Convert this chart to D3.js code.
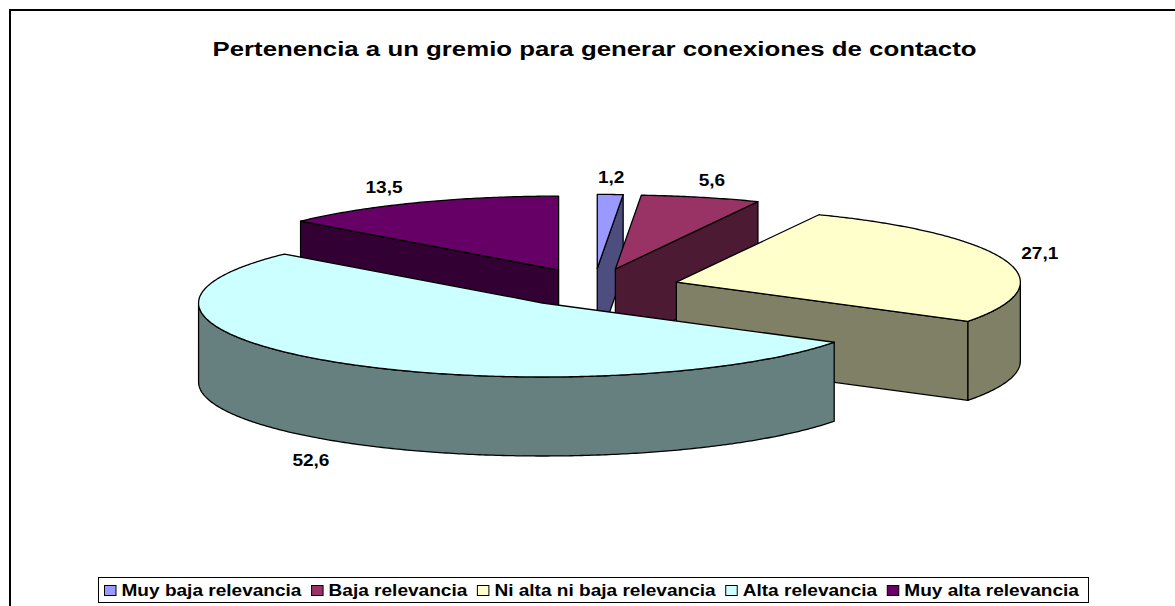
<!DOCTYPE html>
<html><head><meta charset="utf-8">
<script src="https://cdn.jsdelivr.net/npm/d3@7/dist/d3.min.js"></script>
<style>html,body{margin:0;padding:0;background:#fff}svg{display:block}text{font-family:"Liberation Sans",Arial,sans-serif;font-weight:bold;fill:#000}</style>
</head><body><svg id="c" width="1175" height="606"></svg>
<script>
const categories = ["Muy baja relevancia","Baja relevancia","Ni alta ni baja relevancia","Alta relevancia","Muy alta relevancia"];
const values = [1.2,5.6,27.1,52.6,13.5];
const valueLabels = ["1,2","5,6","27,1","52,6","13,5"];
const topColors = ["#9999FF","#993366","#FFFFCC","#CCFFFF","#660066"];
const sideColors = ["#4D4D80","#4D1A33","#808066","#668080","#330033"];
const drawOrder = [4,0,1,2,3];
const title = "Pertenencia a un gremio para generar conexiones de contacto";

// layout
const W=1175,H=606,cx=594,cy=287.6,rx=344,ry=74,depth=79,explodeX=86,explodeY=19.2;
const labelOffset=[[0,-17],[10,-17],[33,-7],[-27,19],[-34,-15]];
const svg=d3.select("#c");
svg.append("path").attr("d",`M${W},10H10V${H}`).attr("fill","none").attr("stroke","#000").attr("stroke-width",2);
const wideText=(sel,x,y,size,str,anchor,sx)=>sel.append("text").attr("transform",`translate(${x},${y}) scale(${sx},1)`)
  .attr("text-anchor",anchor).attr("font-size",size).text(str);
wideText(svg,594.5,55.5,21,title,"middle",1.229);

const arcs=d3.pie().sort(null).value(d=>d)(values);
const xS=d3.scaleLinear().domain([-1,1]).range([-rx,rx]);
const yS=d3.scaleLinear().domain([-1,1]).range([-ry,ry]);
const line=d3.line();
const center=a=>{const m=(a.startAngle+a.endAngle)/2;return [cx+explodeX*Math.sin(m),cy-explodeY*Math.cos(m)];};
const pt=(c,t,dz=0)=>[c[0]+xS(Math.sin(t)),c[1]-yS(Math.cos(t))+dz];
const samples=(a,b)=>{const n=Math.max(2,Math.ceil((b-a)/0.01));return d3.range(n+1).map(i=>a+(b-a)*i/n);};
const sw=1.3;
drawOrder.forEach(i=>{
  const a=arcs[i],c=center(a),s=a.startAngle,e=a.endAngle;
  const g=svg.append("g").attr("stroke","#000").attr("stroke-width",sw).attr("stroke-linejoin","round");
  const wall=p=>g.append("path").attr("d",line(p)+"Z").attr("fill",sideColors[i]);
  if(Math.sin(s)<-1e-6) wall([c,pt(c,s),pt(c,s,depth),[c[0],c[1]+depth]]);
  if(Math.sin(e)>1e-6) wall([c,pt(c,e),pt(c,e,depth),[c[0],c[1]+depth]]);
  const w0=Math.max(s,Math.PI/2),w1=Math.min(e,1.5*Math.PI);
  if(w1>w0){
    const tt=samples(w0,w1);
    wall(tt.map(t=>pt(c,t)).concat(tt.slice().reverse().map(t=>pt(c,t,depth))));
  }
  g.append("path").attr("d",line([c].concat(samples(s,e).map(t=>pt(c,t))))+"Z").attr("fill",topColors[i]);
});
arcs.forEach((a,i)=>{
  const c=center(a),p=pt(c,(a.startAngle+a.endAngle)/2);
  wideText(svg,p[0]+labelOffset[i][0]+1,p[1]+labelOffset[i][1]+(i===3?depth:0)+5.5,16,valueLabels[i],"middle",1.19);
});
// legend
const lg=svg.append("g");
const box=lg.append("rect").attr("fill","#fff").attr("stroke","#000").attr("stroke-width",1);
const legendStretch=1.155;let lx=104;
categories.forEach((n,i)=>{
  lg.append("rect").attr("x",lx+.5).attr("y",585.5).attr("width",11.5).attr("height",10).attr("fill",topColors[i]).attr("stroke","#000").attr("stroke-width",1);
  const t=wideText(lg,lx+17.5,596,16.5,n,"start",legendStretch);
  lx+=17.5+t.node().getComputedTextLength()*legendStretch+9.6;
});
box.attr("x",98.5).attr("y",577.5).attr("width",1088-98).attr("height",25);
</script></body></html>
